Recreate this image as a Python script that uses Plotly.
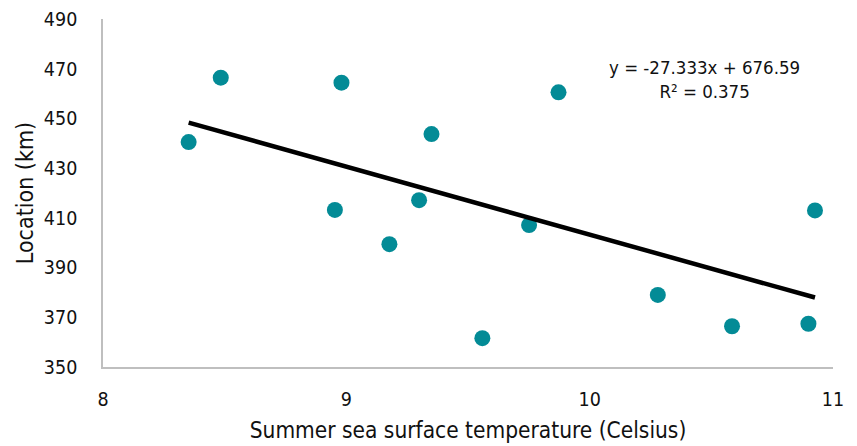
import plotly.graph_objects as go

# Summer sea surface temperature (°C) and location (km) observations
temperature_c = [8.352, 8.484, 8.980, 8.953, 9.177, 9.350, 9.299,
                 9.559, 9.751, 9.872, 10.280, 10.585, 10.899, 10.926]
location_km = [440.5, 466.4, 464.4, 413.2, 399.4, 443.7, 417.1,
               361.6, 407.1, 460.5, 379.0, 366.4, 367.4, 413.0]

# Linear trendline coefficients as reported on the chart
slope = -27.333
intercept = 676.59
r_squared = 0.375

x_ticks = [8, 9, 10, 11]
y_ticks = [350, 370, 390, 410, 430, 450, 470, 490]

FONT = "DejaVu Sans Condensed, Liberation Sans Narrow, Arial Narrow, sans-serif"
TEAL = "#038b96"
AXIS_GREY = "#bfbfbf"
INK = "#111111"

x_lo, x_hi = min(temperature_c), max(temperature_c)
trend_x = [x_lo, x_hi]
trend_y = [slope * v + intercept for v in trend_x]

fig = go.Figure()

fig.add_trace(go.Scatter(
    x=temperature_c, y=location_km, mode="markers",
    marker=dict(size=16, color=TEAL, line=dict(width=0)),
    showlegend=False, cliponaxis=False,
))

fig.add_trace(go.Scatter(
    x=trend_x, y=trend_y, mode="lines",
    line=dict(color="black", width=4.5),
    showlegend=False, cliponaxis=False,
))

fig.add_annotation(
    x=10.47, y=465.5, xref="x", yref="y",
    text=f"y = {slope}x + {intercept}<br>R² = {r_squared}",
    showarrow=False, align="center",
    font=dict(family=FONT, size=18.5, color=INK),
)

fig.update_layout(
    width=857, height=446,
    margin=dict(l=103, r=24, t=19, b=79, autoexpand=False),
    paper_bgcolor="white", plot_bgcolor="white",
    font=dict(family=FONT, size=19, color=INK),
    xaxis=dict(
        range=[8, 11], tickvals=x_ticks, showgrid=False, zeroline=False,
        showline=True, linecolor=AXIS_GREY, linewidth=1.5,
        ticks="", ticklabelstandoff=14, automargin=False,
        tickfont=dict(family=FONT, size=19.5, color=INK),
        title=dict(text="Summer sea surface temperature (Celsius)",
                   font=dict(family=FONT, size=22.5, color=INK),
                   standoff=12),
    ),
    yaxis=dict(
        range=[350, 490], tickvals=y_ticks, showgrid=False, zeroline=False,
        showline=True, linecolor=AXIS_GREY, linewidth=1.5,
        ticks="", ticklabelstandoff=20, automargin=False,
        tickfont=dict(family=FONT, size=19.5, color=INK),
        title=dict(text="Location (km)",
                   font=dict(family=FONT, size=23, color=INK),
                   standoff=4),
    ),
)

fig.write_html("out.html")
